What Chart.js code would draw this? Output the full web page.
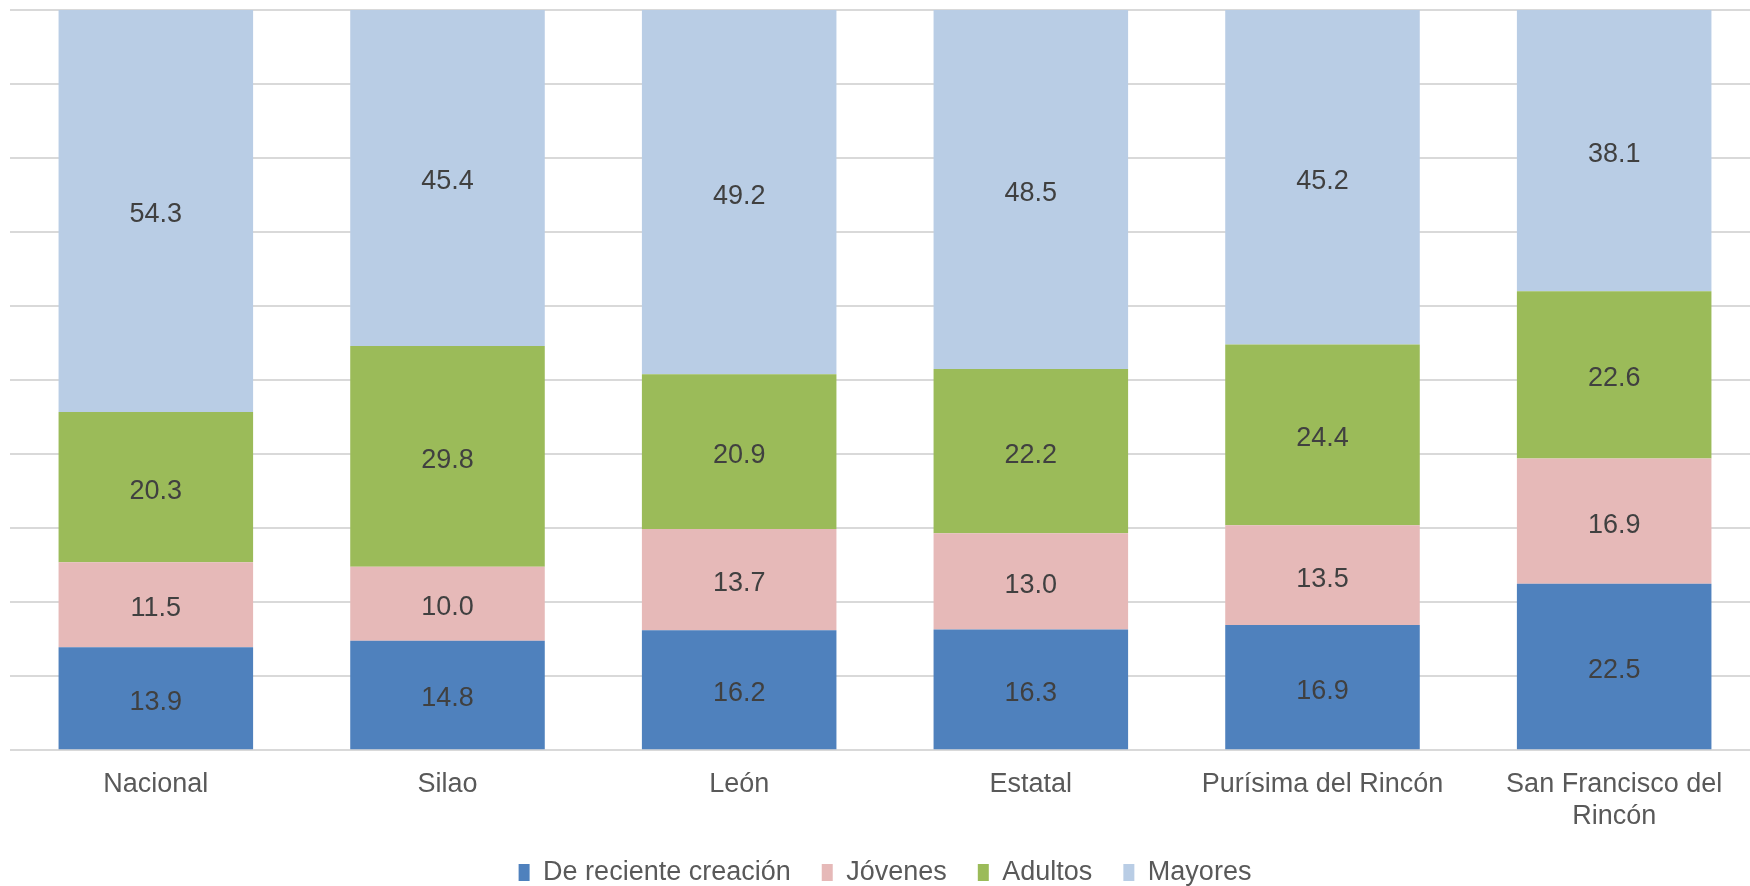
<!DOCTYPE html>
<html>
<head>
<meta charset="utf-8">
<script src="https://cdn.jsdelivr.net/npm/chart.js@4"></script>
<style>
  html, body { margin: 0; padding: 0; background: #fff; overflow: hidden; }
  #wrap { width: 1750px; height: 886px; overflow: hidden; }
</style>
</head>
<body>
<div id="wrap"><canvas id="chart" width="1760" height="896"></canvas></div>
<script>
const categories = ["Nacional", "Silao", "León", "Estatal", "Purísima del Rincón", ["San Francisco del", "Rincón"]];
const reciente = [13.9, 14.8, 16.2, 16.3, 16.9, 22.5];
const jovenes = [11.5, 10.0, 13.7, 13.0, 13.5, 16.9];
const adultos = [20.3, 29.8, 20.9, 22.2, 24.4, 22.6];
const mayores = [54.3, 45.4, 49.2, 48.5, 45.2, 38.1];

const font = "'Liberation Sans', Arial, sans-serif";

// draw the value in the middle of each segment
const valueLabels = {
  id: "valueLabels",
  afterDatasetsDraw(chart) {
    const ctx = chart.ctx;
    ctx.save();
    ctx.font = "27px " + font;
    ctx.fillStyle = "#404040";
    ctx.textAlign = "center";
    ctx.textBaseline = "middle";
    chart.data.datasets.forEach((ds, i) => {
      chart.getDatasetMeta(i).data.forEach((bar, j) => {
        const y = (bar.y + bar.base) / 2;
        ctx.fillText(ds.data[j].toFixed(1), bar.x, y + 4);
      });
    });
    ctx.restore();
  }
};

new Chart(document.getElementById("chart"), {
  type: "bar",
  data: {
    labels: categories,
    datasets: [
      { label: "De reciente creación", data: reciente, backgroundColor: "#4F81BD" },
      { label: "Jóvenes", data: jovenes, backgroundColor: "#E6B9B8" },
      { label: "Adultos", data: adultos, backgroundColor: "#9BBB59" },
      { label: "Mayores", data: mayores, backgroundColor: "#B9CDE5" },
    ],
  },
  options: {
    responsive: false,
    animation: false,
    layout: { padding: { left: 10, top: 10, right: 0, bottom: 0 } },
    datasets: { bar: { categoryPercentage: 1, barPercentage: 0.667 } },
    plugins: {
      tooltip: { enabled: false },
      legend: {
        position: "bottom",
        labels: {
          font: { family: font, size: 27 },
          color: "#595959",
          boxWidth: 11,
          boxHeight: 17,
          padding: 16,
          // a bit more room between the entries
          generateLabels: (chart) =>
            Chart.defaults.plugins.legend.labels.generateLabels(chart).map((l, i, all) =>
              i < all.length - 1 ? { ...l, text: l.text + "  " } : l),
        },
      },
    },
    scales: {
      x: {
        stacked: true,
        grid: { display: false },
        border: { display: false },
        ticks: {
          font: { family: font, size: 27 },
          color: "#595959",
          padding: 10,
          maxRotation: 0,
          autoSkip: false,
        },
      },
      y: {
        stacked: true,
        min: 0,
        max: 100,
        grid: { color: "#D9D9D9", lineWidth: 2, drawTicks: false },
        border: { display: false },
        ticks: { display: false, stepSize: 10 },
      },
    },
  },
  plugins: [valueLabels],
});
</script>
</body>
</html>
